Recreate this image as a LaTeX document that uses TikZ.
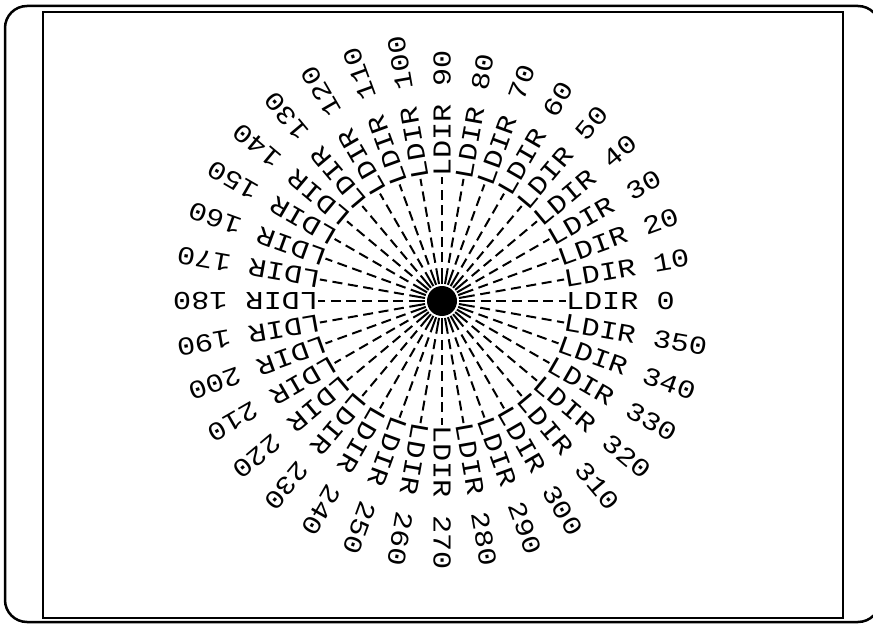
\documentclass[tikz,border=0pt]{standalone}
\usepackage{fontspec}
\newfontfamily\plotfont[FakeStretch=1.17, Numbers=SlashedZero]{Liberation Mono}
\usetikzlibrary{positioning, calc}
\tikzset{
  outerframe/.style={
    line width=2.5pt,
    rounded corners=22pt
  },
  innerframe/.style={
    line width=1.8pt
  },
  hubdot/.style={
    circle,
    fill=black,
    minimum size=30pt,
    inner sep=0pt
  },
  dirlabel/.style={
    anchor=west,
    inner sep=0pt,
    outer sep=0pt,
    font=\plotfont\fontsize{25.8}{26}\selectfont
  },
  ray/.style={
    line width=2pt,
    shorten <=2pt,
    dash pattern=on 16pt off 5.6pt on 10pt off 5.6pt on 10pt off 5.6pt on 10pt off 5.6pt on 10pt off 5.6pt on 10pt off 5.6pt on 10pt off 5.6pt
  }
}
\begin{document}
\begin{tikzpicture}[x=1pt, y=1pt]
  \useasboundingbox (0,0) rectangle (873,625);

  % Frame
  \draw[outerframe] (5,3) rectangle (880,619);
  \draw[innerframe] (43,7) rectangle (843,613);

  % Hub
  \node (hub) [hubdot] at (442,324) {};

  % Rays and labels
  \foreach \a in {0,10,...,350} {
    \node (lbl\a) [dirlabel, rotate=\a] at ([shift={(\a:124)}]hub.center) {LDIR \a};
    \draw[ray] (hub) -- (lbl\a.west);
  }

\end{tikzpicture}
\end{document}
